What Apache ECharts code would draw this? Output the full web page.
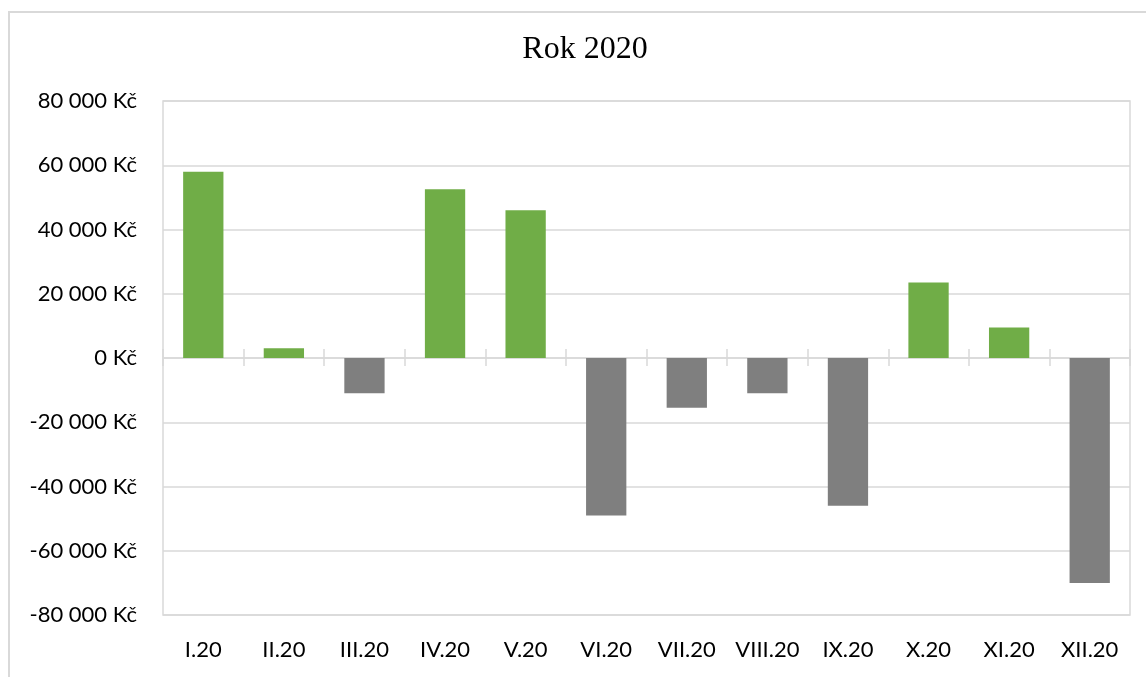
<!DOCTYPE html>
<html>
<head>
<meta charset="utf-8">
<script src="https://cdn.jsdelivr.net/npm/echarts@6/dist/echarts.min.js"></script>
<style>
html,body{margin:0;padding:0;background:#fff;overflow:hidden;}
#wrap{position:relative;width:1146px;height:677px;}
#frame{position:absolute;left:8px;top:11px;width:1200px;height:800px;border-left:2px solid #d9d9d9;border-top:2px solid #d9d9d9;box-sizing:border-box;}
#c{position:absolute;left:0;top:0;width:1146px;height:677px;}
</style>
</head>
<body>
<div id="wrap"><div id="frame"></div><div id="c"></div></div>
<script>
const categories = ['I.20','II.20','III.20','IV.20','V.20','VI.20','VII.20','VIII.20','IX.20','X.20','XI.20','XII.20'];
const values = [58000, 3000, -11000, 52500, 46000, -49000, -15500, -11000, -46000, 23500, 9500, -70000];
const yMin = -80000, yMax = 80000, yStep = 20000;
const titleText = 'Rok 2020';
const currency = ' Kč';

function fmt(v){
  const neg = v < 0; const s = String(Math.abs(v)).replace(/\B(?=(\d{3})+(?!\d))/g, ' ');
  return (neg ? '-' : '') + s + currency;
}

const chart = echarts.init(document.getElementById('c'));
const font = 'Lato, "Open Sans", sans-serif';
const lineCol = '#d9d9d9';
const gridBox = {left: 163, right: 16, top: 101, bottom: 62};
chart.setOption({
  animation: false,
  backgroundColor: 'transparent',
  title: {
    text: titleText, left: 580, top: 29, textAlign: 'center',
    textStyle: {fontFamily: '"Liberation Serif", "Times New Roman", serif', fontSize: 32, fontWeight: 'normal', color: '#000'}
  },
  grid: [
    Object.assign({show: true, borderColor: lineCol, borderWidth: 1.5}, gridBox),
    Object.assign({show: false}, gridBox)
  ],
  xAxis: [{
    gridIndex: 0, type: 'category', data: categories,
    axisLine: {show: true, onZero: true, lineStyle: {color: lineCol, width: 1.5}},
    axisTick: {show: true, length: 8, lineStyle: {color: lineCol, width: 1.5}},
    axisLabel: {show: true, interval: 0, hideOverlap: false, margin: 24, fontFamily: font, fontSize: 22, color: '#000'}
  }, {
    gridIndex: 1, type: 'category', data: categories,
    axisLine: {show: false, onZero: true},
    axisTick: {show: true, inside: true, length: 9, lineStyle: {color: lineCol, width: 1.5}},
    axisLabel: {show: false}
  }],
  yAxis: [{
    gridIndex: 0, type: 'value', min: yMin, max: yMax, interval: yStep,
    axisLine: {show: false}, axisTick: {show: false},
    splitLine: {lineStyle: {color: lineCol, width: 1.5}},
    axisLabel: {formatter: fmt, margin: 26, fontFamily: font, fontSize: 22, color: '#000'}
  }, {
    gridIndex: 1, type: 'value', min: yMin, max: yMax, interval: yStep,
    axisLine: {show: false}, axisTick: {show: false}, splitLine: {show: false}, axisLabel: {show: false}
  }],
  series: [{
    type: 'bar', xAxisIndex: 0, yAxisIndex: 0, barWidth: '50%',
    data: values.map(v => ({value: v, itemStyle: {color: v >= 0 ? '#70AD47' : '#7F7F7F'}}))
  }]
});
</script>
</body>
</html>
